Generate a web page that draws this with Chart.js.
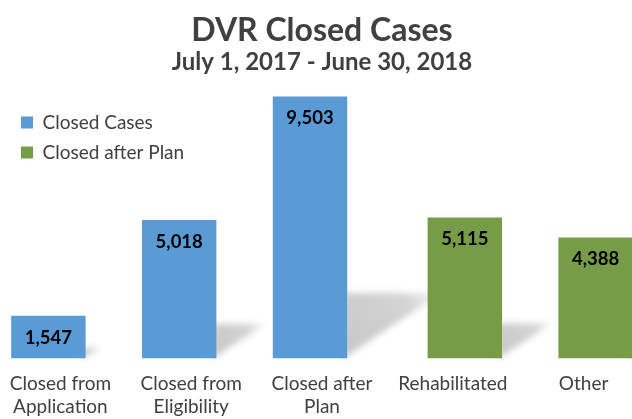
<!DOCTYPE html>
<html>
<head>
<meta charset="utf-8">
<script src="https://cdn.jsdelivr.net/npm/chart.js@4.4.0/dist/chart.umd.min.js"></script>
<style>
  html, body { margin: 0; padding: 0; background: #ffffff; overflow: hidden; width: 632px; height: 419px; }
  #wrap { position: absolute; left: -5px; top: 0; width: 654px; height: 419px; }
  canvas { display: block; }
</style>
</head>
<body>
<div id="wrap"><canvas id="c" width="654" height="419"></canvas></div>
<script>
// ---- data ----
const categories = [
  ['Closed from', 'Application'],
  ['Closed from', 'Eligibility'],
  ['Closed after', 'Plan'],
  'Rehabilitated',
  'Other'
];
const seriesNames = ['Closed Cases', 'Closed after Plan'];
const closedCases = [1547, 5018, 9503, null, null];
const closedAfterPlan = [null, null, null, 5115, 4388];
const chartTitle = 'DVR Closed Cases';
const chartSubtitle = 'July 1, 2017 - June 30, 2018';

const BLUE = '#5B9BD5';
const GREEN = '#779C48';
const TEXT = '#404040';
const FONT = 'Lato, "Open Sans", sans-serif';

// perspective shadow behind bars
const shadowPlugin = {
  id: 'barShadow',
  beforeDatasetsDraw(chart) {
    const ctx = chart.ctx;
    chart.data.datasets.forEach((ds, di) => {
      const meta = chart.getDatasetMeta(di);
      meta.data.forEach((el, i) => {
        if (ds.data[i] == null) return;
        const h = el.base - el.y;
        const right = el.x + el.width / 2;
        const dx = 0.36 * h, dy = 0.25 * h;
        ctx.save();
        ctx.filter = 'blur(3px)';
        const g = ctx.createLinearGradient(right, el.base, right + dx, el.base - dy);
        g.addColorStop(0, 'rgba(0,0,0,0.22)');
        g.addColorStop(0.7, 'rgba(0,0,0,0.17)');
        g.addColorStop(1, 'rgba(0,0,0,0.03)');
        ctx.fillStyle = g;
        ctx.beginPath();
        ctx.moveTo(right - 4, el.base);
        ctx.lineTo(right - 4, el.base - dy);
        ctx.lineTo(right + dx, el.base - dy);
        ctx.closePath();
        ctx.fill();
        ctx.restore();
      });
    });
  }
};

// value labels inside top of bars
const valueLabelPlugin = {
  id: 'valueLabels',
  afterDatasetsDraw(chart) {
    const ctx = chart.ctx;
    ctx.save();
    ctx.font = 'bold 18.5px ' + FONT;
    ctx.fillStyle = '#000000';
    ctx.textAlign = 'center';
    ctx.textBaseline = 'middle';
    chart.data.datasets.forEach((ds, di) => {
      const meta = chart.getDatasetMeta(di);
      meta.data.forEach((el, i) => {
        const v = ds.data[i];
        if (v == null) return;
        ctx.fillText(v.toLocaleString('en-US'), el.x, el.y + 22);
      });
    });
    ctx.restore();
  }
};

// place the in-plot legend at the top left of the plot
const legendPlace = {
  id: 'legendPlace',
  afterLayout(chart) {
    const lg = chart.legend;
    if (!lg) return;
    const w = lg.right - lg.left, h = lg.bottom - lg.top;
    lg.left = chart.chartArea.left + 15;
    lg.right = lg.left + w;
    lg.top = 102;
    lg.bottom = lg.top + h;
  }
};

new Chart(document.getElementById('c'), {
  type: 'bar',
  data: {
    labels: categories,
    datasets: [
      { label: seriesNames[0], data: closedCases, backgroundColor: BLUE, borderWidth: 0,
        categoryPercentage: 0.367, barPercentage: 3.1 },
      { label: seriesNames[1], data: closedAfterPlan, backgroundColor: GREEN, borderWidth: 0,
        categoryPercentage: 0.367, barPercentage: 3.1 }
    ]
  },
  options: {
    responsive: false,
    animation: false,
    devicePixelRatio: 1,
    layout: { padding: { top: 2, bottom: -5, left: 0, right: 0 } },
    plugins: {
      title: { display: true, text: chartTitle, color: TEXT,
        font: { family: FONT, size: 32, weight: 'bold' }, padding: { top: 9, bottom: -2 } },
      subtitle: { display: true, text: chartSubtitle, color: TEXT,
        font: { family: FONT, size: 24, weight: 'bold' }, padding: { top: 0, bottom: 11 } },
      legend: { position: 'chartArea', align: 'start',
        labels: { boxWidth: 12, boxHeight: 12, padding: 11, color: TEXT,
          font: { family: FONT, size: 19 } } },
      tooltip: { enabled: false }
    },
    scales: {
      x: {
        grid: { display: false }, border: { display: false },
        ticks: { color: TEXT, font: { family: FONT, size: 19 }, padding: 6,
          maxRotation: 0, autoSkip: false }
      },
      y: { display: false, min: 0, max: 9840 }
    }
  },
  plugins: [shadowPlugin, valueLabelPlugin, legendPlace]
});
</script>
</body>
</html>
